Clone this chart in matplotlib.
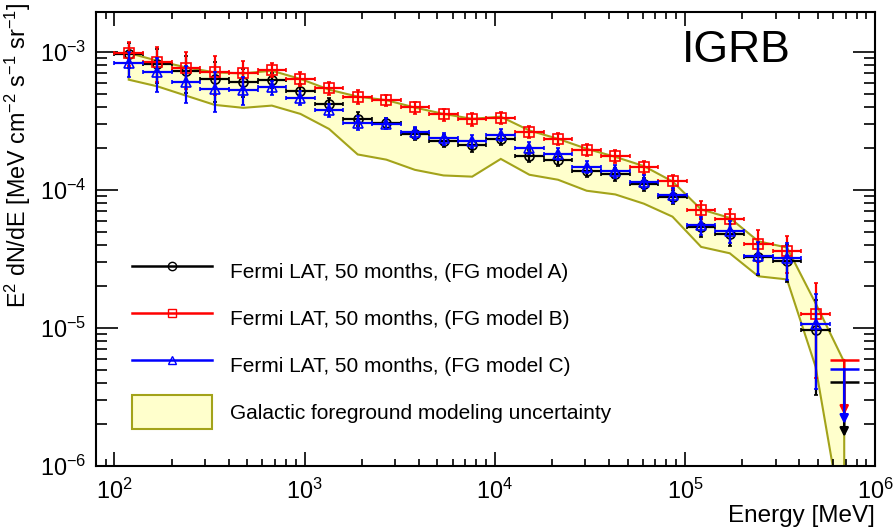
import numpy as np
import matplotlib
matplotlib.use("Agg")
import matplotlib.pyplot as plt
from matplotlib.lines import Line2D
from matplotlib.patches import Patch
from matplotlib.ticker import LogLocator, NullFormatter

plt.rcParams['font.family'] = ['Liberation Sans', 'DejaVu Sans']
plt.rcParams['mathtext.default'] = 'regular'

# ---- data -------------------------------------------------------------
# energy bin edges [MeV]: 100 MeV - 820 GeV, 26 bins
bin_edges = [100 * 2 ** (k / 2) for k in range(27)]

# E^2 dN/dE [MeV cm^-2 s^-1 sr^-1], bins 0..24 are measurements
model_A = [9.64e-4, 8.23e-4, 7.24e-4, 6.38e-4, 6.10e-4, 6.25e-4, 5.25e-4, 4.17e-4,
           3.28e-4, 3.06e-4, 2.55e-4, 2.28e-4, 2.12e-4, 2.35e-4, 1.77e-4, 1.645e-4,
           1.37e-4, 1.31e-4, 1.11e-4, 8.94e-5, 5.39e-5, 4.83e-5, 3.26e-5, 3.06e-5, 9.65e-6]
model_B = [9.88e-4, 8.44e-4, 7.70e-4, 7.14e-4, 7.03e-4, 7.47e-4, 6.41e-4, 5.49e-4,
           4.75e-4, 4.50e-4, 3.98e-4, 3.53e-4, 3.26e-4, 3.35e-4, 2.64e-4, 2.35e-4,
           1.95e-4, 1.76e-4, 1.46e-4, 1.156e-4, 7.20e-5, 6.13e-5, 4.06e-5, 3.60e-5, 1.27e-5]
model_C = [8.27e-4, 7.12e-4, 6.10e-4, 5.40e-4, 5.34e-4, 5.55e-4, 4.67e-4, 3.78e-4,
           3.07e-4, 3.03e-4, 2.62e-4, 2.37e-4, 2.26e-4, 2.50e-4, 2.01e-4, 1.82e-4,
           1.48e-4, 1.37e-4, 1.15e-4, 9.22e-5, 5.55e-5, 5.02e-5, 3.34e-5, 3.19e-5, 1.07e-5]
# relative (symmetric) uncertainty per bin
rel_err = [0.20, 0.28, 0.30, 0.32, 0.23, 0.12, 0.11, 0.11, 0.12, 0.09, 0.10, 0.10,
           0.11, 0.10, 0.10, 0.10, 0.10, 0.11, 0.11, 0.12, 0.15, 0.18, 0.26, 0.30, 0.66]
# upper limits in last bin (580-820 GeV)
ul_A, ul_B, ul_C = 4.06e-6, 5.86e-6, 5.04e-6

# Galactic foreground modeling uncertainty band (26 bins)
band_hi = [9.83e-4, 8.65e-4, 7.74e-4, 7.12e-4, 7.00e-4, 7.32e-4, 6.38e-4, 5.34e-4,
           4.75e-4, 4.48e-4, 3.96e-4, 3.56e-4, 3.28e-4, 3.40e-4, 2.70e-4, 2.35e-4,
           1.99e-4, 1.74e-4, 1.49e-4, 1.154e-4, 7.24e-5, 6.28e-5, 4.25e-5, 3.83e-5,
           1.51e-5, 5.67e-6]
band_lo = [6.30e-4, 5.64e-4, 4.83e-4, 4.14e-4, 3.94e-4, 4.09e-4, 3.56e-4, 2.77e-4,
           1.81e-4, 1.66e-4, 1.40e-4, 1.275e-4, 1.25e-4, 1.68e-4, 1.29e-4, 1.187e-4,
           9.88e-5, 9.29e-5, 7.96e-5, 6.41e-5, 3.87e-5, 3.48e-5, 2.37e-5, 2.25e-5,
           5.24e-6, 3.3e-7]

legend_labels = ["Fermi LAT, 50 months, (FG model A)",
                 "Fermi LAT, 50 months, (FG model B)",
                 "Fermi LAT, 50 months, (FG model C)",
                 "Galactic foreground modeling uncertainty"]

# ---- derived -----------------------------------------------------------
edges = np.array(bin_edges)
centers = np.sqrt(edges[:-1] * edges[1:])
xlo = centers - edges[:-1]
xhi = edges[1:] - centers
n = len(model_A)

fig = plt.figure(figsize=(8.96, 5.31), dpi=100)
ax = fig.add_axes([96 / 896, 1 - 466 / 531, (875 - 96) / 896, (466 - 12) / 531])

band_fc = '#ffffcc'
band_ec = '#a3a31a'
px = np.concatenate([centers, centers[::-1]])
py = np.concatenate([band_hi, band_lo[::-1]])
ax.fill(px, py, facecolor=band_fc, edgecolor=band_ec, lw=1.5, zorder=1)

series = [(model_A, ul_A, 'black', 'o'),
          (model_B, ul_B, 'red', 's'),
          (model_C, ul_C, 'blue', '^')]
for k, (vals, ul, col, mk) in enumerate(series):
    v = np.array(vals)
    e = v * np.array(rel_err)
    ax.errorbar(centers[:n], v, yerr=e, xerr=[xlo[:n], xhi[:n]], fmt=mk,
                mfc='none', mec=col, mew=1.2, ms=6.5, ecolor=col, elinewidth=1.6,
                capsize=1.6, capthick=1.6, zorder=3 + k)
    ax.errorbar([centers[n]], [ul], xerr=[[xlo[n]], [xhi[n]]], fmt='none',
                ecolor=col, elinewidth=1.8, zorder=3 + k)
    ax.annotate('', xy=(centers[n], ul * 0.40), xytext=(centers[n], ul),
                arrowprops=dict(arrowstyle='-|>,head_length=0.5,head_width=0.25',
                                color=col, lw=1.8, shrinkA=0, shrinkB=0),
                zorder=3 + k)

ax.set_xscale('log')
ax.set_yscale('log')
ax.set_xlim(80, 1e6)
ax.set_ylim(1e-6, 1.95e-3)

for s in ax.spines.values():
    s.set_linewidth(1.5)
ax.tick_params(which='both', direction='in', top=True, right=True, labelsize=16.8,
               width=1.2)
ax.tick_params(axis='x', which='major', length=10, pad=9)
ax.tick_params(axis='x', which='minor', length=5)
ax.tick_params(axis='y', which='major', length=16, pad=7)
ax.tick_params(axis='y', which='minor', length=8)
ax.xaxis.set_minor_locator(LogLocator(base=10, subs=np.arange(2, 10), numticks=20))
ax.yaxis.set_minor_locator(LogLocator(base=10, subs=np.arange(2, 10), numticks=20))
ax.xaxis.set_minor_formatter(NullFormatter())
ax.yaxis.set_minor_formatter(NullFormatter())

ax.text((736 - 96) / 779, (466 - 50) / 454, "IGRB", transform=ax.transAxes,
        fontsize=32, ha='center', va='center')

fig.text(875 / 896, 1 - 516 / 531, "Energy [MeV]", ha='right', va='center',
         fontsize=17.5)
fig.text(18 / 896, 1 - 3 / 531, r"E$^{2}$ dN/dE [MeV cm$^{-2}$ s$^{-1}$ sr$^{-1}$]",
         rotation=90, ha='center', va='top', fontsize=16.8)

handles = [Line2D([], [], color='black', lw=1.8, marker='o', mfc='none', mec='black', ms=6),
           Line2D([], [], color='red', lw=1.8, marker='s', mfc='none', mec='red', ms=6),
           Line2D([], [], color='blue', lw=1.8, marker='^', mfc='none', mec='blue', ms=6),
           Patch(facecolor=band_fc, edgecolor=band_ec, lw=1.5)]
fs = 15
fpx = fs / 0.72
ax.legend(handles, legend_labels, loc='upper left',
          bbox_to_anchor=((132 - 96) / (875 - 96), (466 - 254) / (466 - 12)),
          frameon=False, fontsize=fs, borderpad=0, borderaxespad=0,
          handlelength=80 / fpx, handleheight=2.134,
          labelspacing=0.624, handletextpad=18 / fpx)

fig.savefig("out.png", dpi=100)
